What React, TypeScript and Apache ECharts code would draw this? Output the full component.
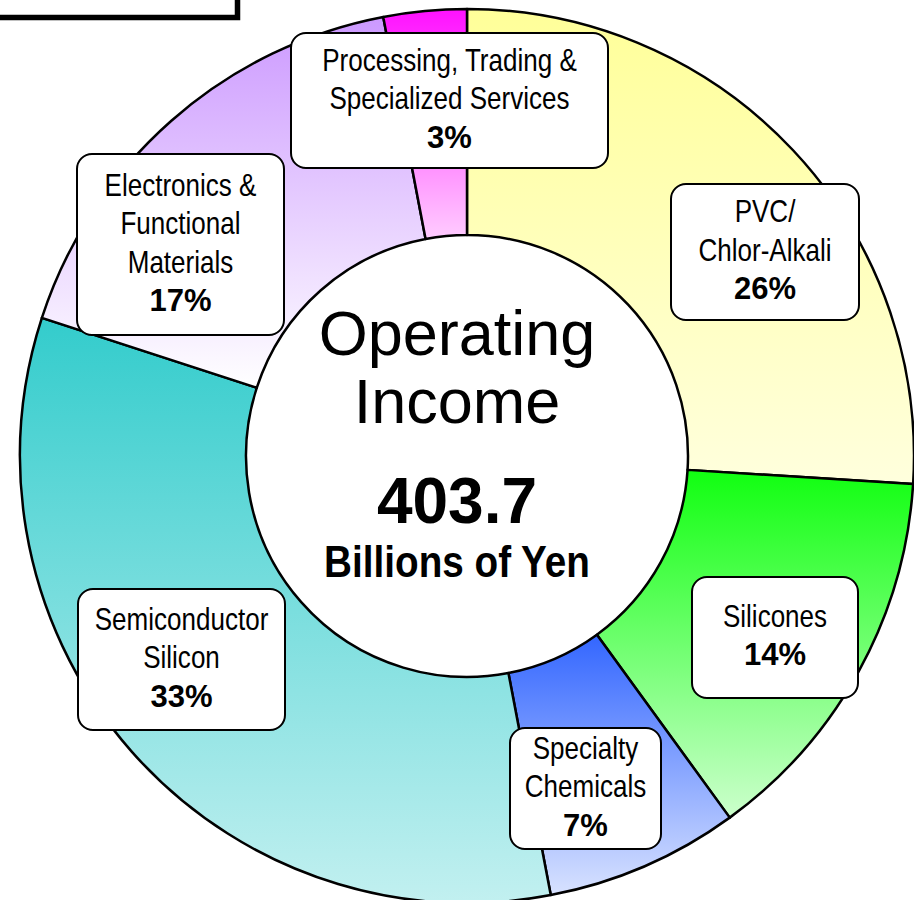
import React, { useEffect, useRef } from "react";
import * as echarts from "echarts";

// ---- data ----
const segmentNames: string[] = [
  "PVC/\nChlor-Alkali",
  "Silicones",
  "Specialty\nChemicals",
  "Semiconductor\nSilicon",
  "Electronics &\nFunctional\nMaterials",
  "Processing, Trading &\nSpecialized Services",
];
const segmentShares: number[] = [26, 14, 7, 33, 17, 3];
const totalIncome = "403.7";
const centerTitle = ["Operating", "Income"];
const unitText = "Billions of Yen";

// ---- styles / layout ----
const topColors = ["#FFFF99", "#11FF11", "#3366FF", "#33CCCC", "#CC99FF", "#FF11FF"];
const bottomColors = ["#FFFFDD", "#CCFFCC", "#D8E2FF", "#C2F0F0", "#FFFFFF", "#FFCCFF"];
// label box centre x, centre y, width, height
const labelBoxes: number[][] = [
  [765, 252, 188, 136],
  [775, 637.5, 166, 121],
  [585.5, 788.5, 151, 121],
  [181.5, 659.5, 207, 141],
  [180.5, 244.5, 207, 181],
  [449.5, 100.5, 317, 135],
];
const LINE_H = 38.5;
const NARROW_SCALE = 0.84;
const SANS = '"Liberation Sans", Arial, sans-serif';

function labelGraphics(): any[] {
  const out: any[] = [];
  segmentNames.forEach((name, i) => {
    const [cx, cy, w, h] = labelBoxes[i];
    const lines = name.split("\n");
    const n = lines.length + 1;
    const mid = cy - 2;
    const children: any[] = [
      {
        type: "rect",
        z: 10,
        shape: { x: cx - w / 2, y: cy - h / 2, width: w, height: h, r: 15 },
        style: { fill: "#ffffff", stroke: "#000000", lineWidth: 2 },
      },
    ];
    lines.forEach((l, k) => {
      children.push({
        type: "text",
        z: 11,
        x: cx,
        y: mid + (k - (n - 1) / 2) * LINE_H,
        scaleX: NARROW_SCALE,
        style: { text: l, font: `31px ${SANS}`, fill: "#000", align: "center", verticalAlign: "middle" },
      });
    });
    children.push({
      type: "text",
      z: 11,
      x: cx,
      y: mid + (n - 1 - (n - 1) / 2) * LINE_H,
      style: {
        text: `${segmentShares[i]}%`,
        font: `bold 31px ${SANS}`,
        fill: "#000",
        align: "center",
        verticalAlign: "middle",
      },
    });
    out.push({ type: "group", z: 10, children });
  });
  return out;
}

export default function App() {
  const ref = useRef<HTMLDivElement>(null);
  useEffect(() => {
    if (!ref.current) return;
    const chart = echarts.init(ref.current, undefined, { renderer: "svg" });
    const data = segmentNames.map((name, i) => ({
      name,
      value: segmentShares[i],
      itemStyle: {
        color: new echarts.graphic.LinearGradient(0, 0, 0, 1, [
          { offset: 0, color: topColors[i] },
          { offset: 1, color: bottomColors[i] },
        ]),
      },
    }));
    chart.setOption({
      animation: false,
      backgroundColor: "#ffffff",
      series: [
        {
          type: "pie",
          z: 2,
          center: [467, 456],
          radius: [221, 447],
          startAngle: 90,
          clockwise: true,
          avoidLabelOverlap: false,
          silent: true,
          emphasis: { disabled: true },
          itemStyle: { borderColor: "#000", borderWidth: 2.5 },
          labelLine: { show: false },
          label: { show: false },
          data,
        },
      ],
      graphic: [
        {
          type: "rect",
          z: 10,
          shape: { x: -10, y: -10, width: 247.5, height: 27.5 },
          style: { fill: "#fff", stroke: "#000", lineWidth: 5.5 },
        },
        ...labelGraphics(),
        {
          type: "text",
          z: 10,
          x: 457,
          y: 333,
          style: { text: centerTitle[0], font: `63px ${SANS}`, fill: "#000", align: "center", verticalAlign: "middle" },
        },
        {
          type: "text",
          z: 10,
          x: 457,
          y: 401,
          style: { text: centerTitle[1], font: `63px ${SANS}`, fill: "#000", align: "center", verticalAlign: "middle" },
        },
        {
          type: "text",
          z: 10,
          x: 457,
          y: 501,
          style: { text: totalIncome, font: `bold 64px ${SANS}`, fill: "#000", align: "center", verticalAlign: "middle" },
        },
        {
          type: "text",
          z: 10,
          x: 457,
          y: 561,
          scaleX: 0.86,
          style: { text: unitText, font: `bold 45px ${SANS}`, fill: "#000", align: "center", verticalAlign: "middle" },
        },
      ],
    });
    return () => chart.dispose();
  }, []);
  return <div ref={ref} style={{ position: "fixed", left: 0, top: 0, width: 914, height: 900 }} />;
}
